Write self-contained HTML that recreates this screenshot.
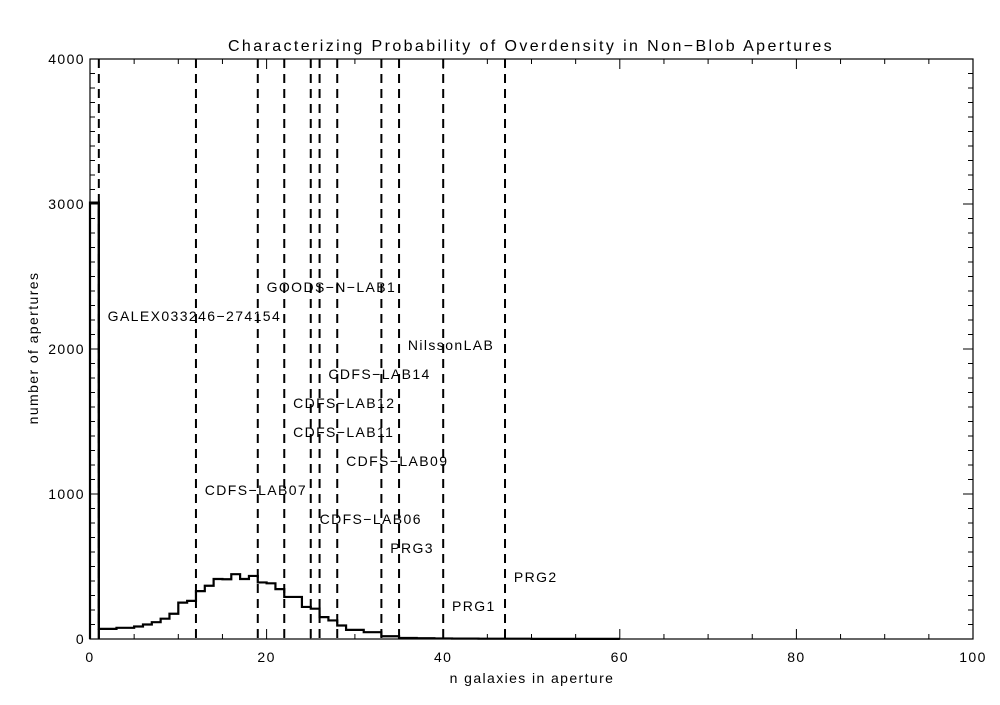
<!DOCTYPE html>
<html><head><meta charset="utf-8">
<style>
html,body{margin:0;padding:0;background:#fff;}
svg text{font-family:"Liberation Sans",sans-serif;font-size:14px;fill:#000;letter-spacing:1.4px;}
</style></head>
<body>
<svg id="chart" width="1000" height="700" xmlns="http://www.w3.org/2000/svg">
<rect width="1000" height="700" fill="#fff"/>
<text x="531" y="51" text-anchor="middle" style="font-size:16px;letter-spacing:2.4px">Characterizing Probability of Overdensity in Non−Blob Apertures</text>
<text x="532" y="683" text-anchor="middle">n galaxies in aperture</text>
<text transform="translate(38,348) rotate(-90)" text-anchor="middle">number of apertures</text>
<g id="axes"></g>
<g id="marks"></g>
</svg>
<script>
const binStarts = [0,1,2,3,4,5,6,7,8,9,10,11,12,13,14,15,16,17,18,19,20,21,22,23,24,25,26,27,28,29,30,31,32,33,34,35,36,37,38,39,40,41,42,43,44,45,46,47,48,49,50,51,52,53,54,55,56,57,58,59];
const counts = [3010,70,70,77,77,86,100,116,140,174,251,263,330,367,414,412,447,414,435,390,384,344,290,290,221,209,151,128,93,63,63,47,47,19,19,7,7,5,5,4,4,3,3,3,2,2,2,2,2,2,1,1,1,1,1,1,1,1,1,1];
const markerX = [1,12,19,22,25,26,28,33,35,40,47];
const labelNames = ["GALEX033246-274154","GOODS-N-LAB1","NilssonLAB","CDFS-LAB14","CDFS-LAB12","CDFS-LAB11","CDFS-LAB09","CDFS-LAB07","CDFS-LAB06","PRG3","PRG2","PRG1"];
const labelX = [2,20,36,27,23,23,29,13,26,34,48,41];
const labelY = [2200,2400,2000,1800,1600,1400,1200,1000,800,600,400,200];
const xTicks = [0,20,40,60,80,100];
const xTickLabels = ["0","20","40","60","80","100"];
const yTicks = [0,1000,2000,3000,4000];
const yTickLabels = ["0","1000","2000","3000","4000"];

const X0=90,X1=973,Y0=639,Y1=59;
const sx=v=>X0+(v-0)/(100-0)*(X1-X0);
const sy=v=>Y0-(v-0)/(4000-0)*(Y0-Y1);
const NS="http://www.w3.org/2000/svg";
const axes=document.getElementById('axes'), marks=document.getElementById('marks');
function mk(tag,attrs,parent){const e=document.createElementNS(NS,tag);for(const k in attrs)e.setAttribute(k,attrs[k]);parent.appendChild(e);return e;}

let frame=mk('rect',{x:X0,y:Y1,width:X1-X0,height:Y0-Y1,fill:'none',stroke:'#000','stroke-width':1.2},axes);


for(let v=0;v<=100;v+=5){
  const major=v%20===0, L=major?10:5;
  let t=mk('line',{x1:sx(v),x2:sx(v),y1:Y0,y2:Y0-L,stroke:'#000'},axes);
  
  
  let t2=mk('line',{x1:sx(v),x2:sx(v),y1:Y1,y2:Y1+L,stroke:'#000'},axes);
  
  
}
xTicks.forEach((v,i)=>{
  let t=mk('text',{x:sx(v),y:662,'text-anchor':'middle'},axes);t.textContent=xTickLabels[i];
  
  
});
for(let v=0;v<=4000;v+=100){
  const major=v%1000===0, L=major?10:5;
  let t=mk('line',{x1:X0,x2:X0+L,y1:sy(v),y2:sy(v),stroke:'#000'},axes);
  
  
  let t2=mk('line',{x1:X1,x2:X1-L,y1:sy(v),y2:sy(v),stroke:'#000'},axes);
  
  
}
yTicks.forEach((v,i)=>{
  let t=mk('text',{x:X0-5,y:sy(v)+5,'text-anchor':'end'},axes);t.textContent=yTickLabels[i];
  
  
});
let d='M'+sx(binStarts[0])+','+sy(0);
binStarts.forEach((b,i)=>{d+=' L'+sx(b)+','+sy(counts[i])+' L'+sx(b+1)+','+sy(counts[i]);});
let h=mk('path',{d:d,fill:'none',stroke:'#000','stroke-width':2.2},marks);


let sp=mk('line',{x1:sx(1),x2:sx(1),y1:sy(0),y2:sy(counts[0]),stroke:'#000','stroke-width':2.2},marks);


markerX.forEach(v=>{
  let l=mk('line',{x1:sx(v),x2:sx(v),y1:Y1,y2:Y0,stroke:'#000','stroke-width':2,'stroke-dasharray':'9,6'},marks);
  
  
});
labelNames.forEach((n,i)=>{
  let t=mk('text',{x:sx(labelX[i]),y:sy(labelY[i])+1},marks);t.textContent=n.replace(/-/g,'−');
  
  
});
</script>
</body></html>
